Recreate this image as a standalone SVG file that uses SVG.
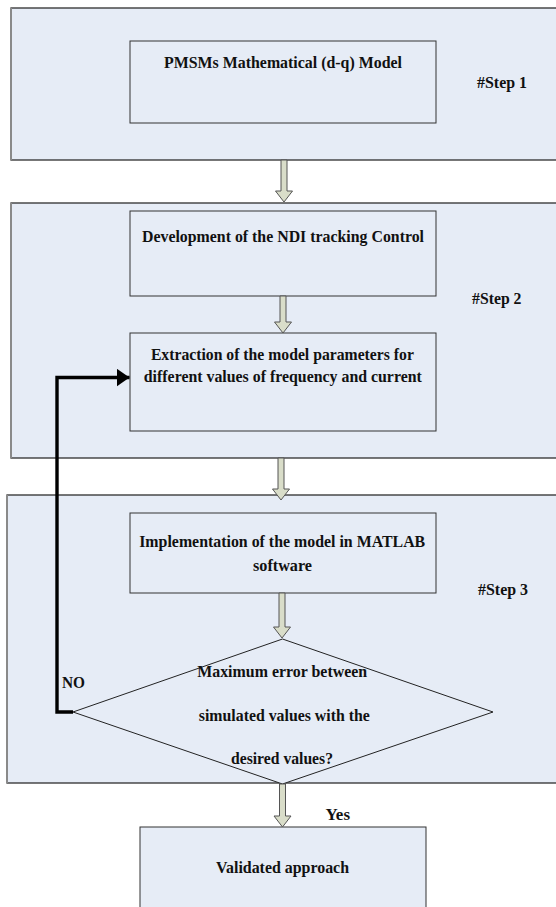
<svg xmlns="http://www.w3.org/2000/svg" width="556" height="907" viewBox="0 0 556 907">
<style>
.step{fill:#E6ECF6;stroke:#2f2f2f;stroke-width:1.3}
.edge{stroke:#8a8a8a;stroke-width:2;fill:none}
.box{fill:#E6ECF6;stroke:#333;stroke-width:1}
.t{font-family:"Liberation Serif","Times New Roman",serif;font-weight:bold;font-size:17.5px;fill:#111}
.c{text-anchor:middle}
.blk{fill:#D9DDC9;stroke:#555;stroke-width:1}
.fb{fill:none;stroke:#000;stroke-width:3.4}
</style>
<defs>
<marker id="ah" markerUnits="userSpaceOnUse" markerWidth="14" markerHeight="18" refX="13" refY="9" orient="auto">
<path d="M0,0 L13,9 L0,18 Z" fill="#000"/>
</marker>
</defs>
<rect width="556" height="907" fill="#fff"/>

<g id="step1">
<rect class="step" x="11" y="8" width="560" height="152"/>
<line class="edge" x1="11" y1="8" x2="11" y2="160"/>
<text class="t" x="477" y="88" textLength="50" lengthAdjust="spacingAndGlyphs">#Step 1</text>
</g>
<g id="step2">
<rect class="step" x="11" y="203" width="560" height="255"/>
<line class="edge" x1="11" y1="203" x2="11" y2="458"/>
<text class="t" x="472" y="304" textLength="49.5" lengthAdjust="spacingAndGlyphs">#Step 2</text>
</g>
<g id="step3">
<rect class="step" x="7" y="495" width="560" height="288"/>
<line class="edge" x1="7" y1="495" x2="7" y2="783"/>
<text class="t" x="478" y="595" textLength="50" lengthAdjust="spacingAndGlyphs">#Step 3</text>
</g>

<g id="pmsm">
<rect class="box" x="130" y="41" width="306" height="82"/>
<text class="t c" x="283" y="68" textLength="238" lengthAdjust="spacingAndGlyphs">PMSMs Mathematical (d-q) Model</text>
</g>
<g id="ndi">
<rect class="box" x="130" y="211" width="306" height="85"/>
<text class="t c" x="283" y="242" textLength="282" lengthAdjust="spacingAndGlyphs">Development of the NDI tracking Control</text>
</g>
<g id="extract">
<rect class="box" x="130" y="333" width="306" height="98"/>
<text class="t c" x="282.4" y="360" textLength="263" lengthAdjust="spacingAndGlyphs">Extraction of the model parameters for</text>
<text class="t c" x="282.8" y="382" textLength="278" lengthAdjust="spacingAndGlyphs">different values of frequency and current</text>
</g>
<g id="impl">
<rect class="box" x="130" y="513" width="306" height="80"/>
<text class="t c" x="282.2" y="547" textLength="286" lengthAdjust="spacingAndGlyphs">Implementation of the model in MATLAB</text>
<text class="t c" x="282.5" y="571" textLength="59" lengthAdjust="spacingAndGlyphs">software</text>
</g>
<g id="decision">
<polygon points="282.5,639 493,712 282.5,784 73,712" fill="#E6ECF6" stroke="#222" stroke-width="1"/>
<text class="t c" x="282.2" y="677" textLength="170" lengthAdjust="spacingAndGlyphs">Maximum error between</text>
<text class="t c" x="284.3" y="721" textLength="171" lengthAdjust="spacingAndGlyphs">simulated values with the</text>
<text class="t c" x="282" y="764" textLength="102" lengthAdjust="spacingAndGlyphs">desired values?</text>
</g>
<g id="validated">
<rect class="box" x="140" y="827" width="286" height="90"/>
<text class="t c" x="282.5" y="873" textLength="133" lengthAdjust="spacingAndGlyphs">Validated approach</text>
</g>

<g id="connectors">
<path class="blk" d="M281,160 L287,160 L287,191 L292.5,191 L284,202 L275.5,191 L281,191 Z"/>
<path class="blk" d="M280,296 L286,296 L286,322 L291.5,322 L283,333 L274.5,322 L280,322 Z"/>
<path class="blk" d="M278,458 L284,458 L284,489 L289.5,489 L281,500 L272.5,489 L278,489 Z"/>
<path class="blk" d="M279,593 L285,593 L285,627 L290.5,627 L282,638 L273.5,627 L279,627 Z"/>
<path class="blk" d="M279.5,784 L285.5,784 L285.5,816 L291,816 L282.5,827 L274,816 L279.5,816 Z"/>
<polyline class="fb" points="73,712 57,712 57,377.5 129.5,377.5" marker-end="url(#ah)"/>
<text class="t" x="62" y="688" textLength="23" lengthAdjust="spacingAndGlyphs">NO</text>
<text class="t" x="325.5" y="820" textLength="24.5" lengthAdjust="spacingAndGlyphs">Yes</text>
</g>
</svg>
